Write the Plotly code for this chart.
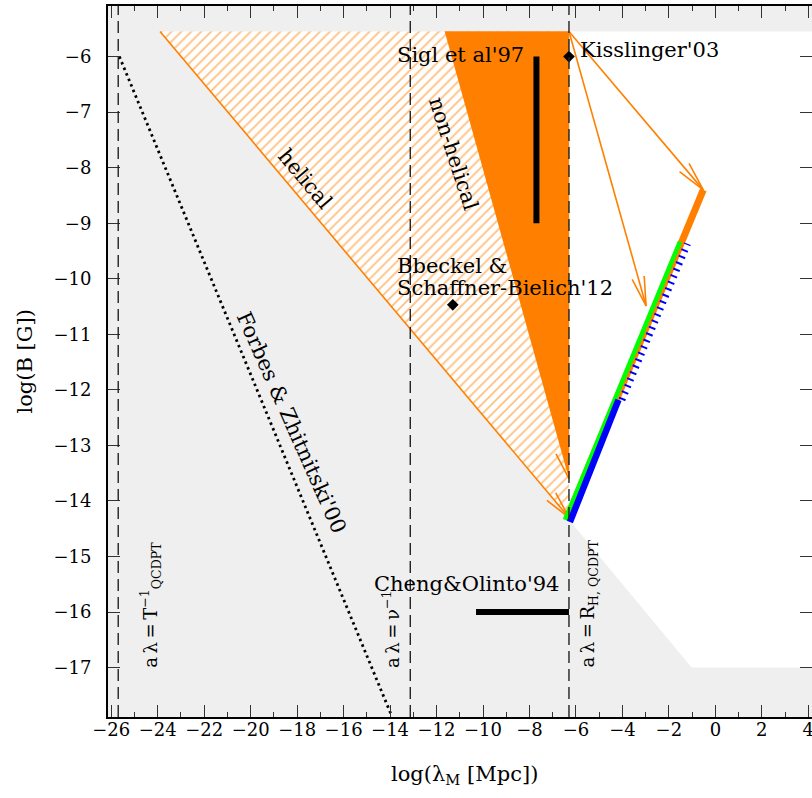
import math
import plotly.graph_objects as go

# ---------------- data ----------------
X_RANGE = [-26.14, 4.16]
Y_RANGE = [-17.89, -5.09]

vline_x = [-25.7, -13.13, -6.3]

forbes_x = [-25.65, -13.95]
forbes_y = [-6.0, -17.85]

helical_x = [-23.9, -6.3, -6.3]
helical_y = [-5.55, -5.55, -14.3]

nonhel_x = [-11.65, -6.3, -6.3]
nonhel_y = [-5.55, -5.55, -13.6]

allowed_x = [-6.3, 5.0, 5.0, -1.02, -6.3]
allowed_y = [-5.55, -5.55, -17.0, -17.0, -14.34]

sigl_x = [-7.7, -7.7]
sigl_y = [-6.0, -9.0]

cheng_x = [-10.3, -6.3]
cheng_y = [-16.0, -16.0]

points_x = [-6.3, -11.3]      # Kisslinger'03, Boeckel
points_y = [-6.0, -10.47]

kiss_start = (-6.3, -5.55)
kiss_arrow_x = [-0.52, -2.98]
kiss_arrow_y = [-8.40, -10.49]

evol_orange_x = [-6.4, -0.52]
evol_orange_y = [-14.34, -8.40]
evol_green_x = [-6.47, -1.52]
evol_green_y = [-14.34, -9.33]
blue_solid_x = [-6.26, -4.17]
blue_solid_y = [-14.38, -12.18]
blue_dash_x = [-4.02, -1.2]
blue_dash_y = [-12.18, -9.37]

ORANGE = "#ff8000"
GRAY = "#efefef"
FONT = "DejaVu Serif"

W, H = 812, 798
ML, MR, MT, MB = 108, 0, 6, 81
PW = W - ML - MR
PH = H - MT - MB
SX = PW / (X_RANGE[1] - X_RANGE[0])
SY = PH / (Y_RANGE[1] - Y_RANGE[0])


def arrowhead(x0, y0, x1, y1, L=28.0, theta_deg=12.0):
    dx = (x1 - x0) * SX
    dy = (y1 - y0) * SY
    n = math.hypot(dx, dy)
    ux, uy = -dx / n, -dy / n
    th = math.radians(theta_deg)
    xs, ys = [], []
    for s in (1, -1):
        c, si = math.cos(s * th), math.sin(s * th)
        bx = ux * c - uy * si
        by = ux * si + uy * c
        xs.append(x1 + L * bx / SX)
        ys.append(y1 + L * by / SY)
    return [xs[0], x1, xs[1]], [ys[0], y1, ys[1]]


fig = go.Figure()

# allowed (white) region
fig.add_trace(go.Scatter(x=allowed_x, y=allowed_y, fill="toself", fillcolor="white",
                         mode="lines", line=dict(width=0), hoverinfo="skip"))
# helical hatched triangle
fig.add_trace(go.Scatter(x=helical_x, y=helical_y, fill="toself",
                         fillpattern=dict(shape="/", fgcolor=ORANGE, bgcolor="white",
                                          size=7, solidity=0.25),
                         mode="lines", line=dict(width=0), hoverinfo="skip"))
# non-helical solid triangle
fig.add_trace(go.Scatter(x=nonhel_x, y=nonhel_y, fill="toself", fillcolor=ORANGE,
                         mode="lines", line=dict(width=0.5, color=ORANGE), hoverinfo="skip"))
# helical hypotenuse
fig.add_trace(go.Scatter(x=[helical_x[0], helical_x[2]], y=[helical_y[0], helical_y[2]],
                         mode="lines", line=dict(color=ORANGE, width=1.6), hoverinfo="skip"))
ax, ay = arrowhead(helical_x[0], helical_y[0], helical_x[2], helical_y[2])
fig.add_trace(go.Scatter(x=ax, y=ay, mode="lines", line=dict(color=ORANGE, width=1.6),
                         hoverinfo="skip"))
ax, ay = arrowhead(nonhel_x[0], nonhel_y[0], nonhel_x[2], nonhel_y[2])
fig.add_trace(go.Scatter(x=ax, y=ay, mode="lines", line=dict(color=ORANGE, width=1.6),
                         hoverinfo="skip"))

# Forbes & Zhitnitski dotted line
fig.add_trace(go.Scatter(x=forbes_x, y=forbes_y, mode="lines",
                         line=dict(color="black", width=2.8, dash="2.5px,3.5px"),
                         hoverinfo="skip"))

# Kisslinger arrows
for tx, ty in zip(kiss_arrow_x, kiss_arrow_y):
    fig.add_trace(go.Scatter(x=[kiss_start[0], tx], y=[kiss_start[1], ty], mode="lines",
                             line=dict(color=ORANGE, width=1.6), hoverinfo="skip"))
    ax, ay = arrowhead(kiss_start[0], kiss_start[1], tx, ty, L=30)
    fig.add_trace(go.Scatter(x=ax, y=ay, mode="lines", line=dict(color=ORANGE, width=1.6),
                             hoverinfo="skip"))

# evolution lines
fig.add_trace(go.Scatter(x=evol_orange_x, y=evol_orange_y, mode="lines",
                         line=dict(color=ORANGE, width=7), hoverinfo="skip"))
fig.add_trace(go.Scatter(x=evol_green_x, y=evol_green_y, mode="lines",
                         line=dict(color="#00ff00", width=4.5), hoverinfo="skip"))
fig.add_trace(go.Scatter(x=blue_solid_x, y=blue_solid_y, mode="lines",
                         line=dict(color="#0000ff", width=6.5), hoverinfo="skip"))
fig.add_trace(go.Scatter(x=blue_dash_x, y=blue_dash_y, mode="lines",
                         line=dict(color="#0000ff", width=7, dash="2px,5px"), hoverinfo="skip"))

# Sigl and Cheng bars
fig.add_trace(go.Scatter(x=sigl_x, y=sigl_y, mode="lines",
                         line=dict(color="black", width=6), hoverinfo="skip"))
fig.add_trace(go.Scatter(x=cheng_x, y=cheng_y, mode="lines",
                         line=dict(color="black", width=6), hoverinfo="skip"))

# points
fig.add_trace(go.Scatter(x=points_x, y=points_y, mode="markers",
                         marker=dict(symbol="diamond", size=9, color="black"),
                         hoverinfo="skip"))

# dashed vertical lines
for xv in vline_x:
    fig.add_vline(x=xv, line=dict(color="#222", width=1.4, dash="12px,6px"), layer="above")

# ---------------- texts ----------------
texts = [
    ("helical", -17.66, -8.2, 50, "center", "middle", 21),
    ("non-helical", -11.29, -7.74, 72, "center", "middle", 21),
    ("Sigl et al'97", -13.8, -5.97, 0, "left", "middle", 21),
    ("Kisslinger'03", -5.92, -5.88, 0, "left", "middle", 21),
    ("Bbeckel &", -13.8, -9.77, 0, "left", "middle", 21),
    ("Schaffner-Bielich'12", -13.8, -10.17, 0, "left", "middle", 21),
    ("Forbes & Zhitnitski'00", -18.26, -12.58, 66, "center", "middle", 21),
    ("Cheng&Olinto'94", -10.69, -15.5, 0, "center", "middle", 21),
    ("a\u2009\u03bb\u2009=\u2009T<sup>\u22121</sup><sub>QCDPT</sub>", -24.33, -17.04, -90, "center", "bottom", 18),
    ("a\u2009\u03bb\u2009=\u2009\u03bd<sup>\u22121</sup>", -13.95, -17.04, -90, "center", "bottom", 18),
    ("a\u2009\u03bb\u2009=\u2009R<sub>H, QCDPT</sub>", -5.45, -17.04, -90, "center", "bottom", 18),
]
for t, x, y, ang, xa, ya, fs in texts:
    fig.add_annotation(x=x, y=y, text=t, textangle=ang, showarrow=False,
                       xanchor=xa, yanchor=ya, font=dict(family=FONT, size=fs, color="black"))

# axis titles
fig.add_annotation(xref="paper", yref="paper", x=0, y=0.5, xshift=-84, text="log(B [G])",
                   textangle=-90, showarrow=False, xanchor="center", yanchor="middle",
                   font=dict(family=FONT, size=21, color="black"))
fig.add_annotation(xref="paper", yref="paper", x=0.5, y=0, yshift=-58, xshift=4,
                   text="log(\u03bb<sub>M</sub> [Mpc])", showarrow=False,
                   xanchor="center", yanchor="middle",
                   font=dict(family=FONT, size=21, color="black"))

fig.update_layout(
    width=W, height=H,
    margin=dict(l=ML, r=MR, t=MT, b=MB, autoexpand=False),
    plot_bgcolor=GRAY, paper_bgcolor="white",
    showlegend=False,
    xaxis=dict(range=X_RANGE, showgrid=False, zeroline=False, showline=True,
               automargin=False, ticklabeloverflow="allow",
               linecolor="black", linewidth=2, mirror="allticks",
               ticks="inside", ticklen=12, tickwidth=1.3, tickcolor="#333",
               tick0=0, dtick=2, ticklabelstandoff=-5,
               minor=dict(dtick=1, ticks="inside", ticklen=5, tickwidth=1.3, tickcolor="#333"),
               tickfont=dict(family=FONT, size=18, color="black")),
    yaxis=dict(range=Y_RANGE, showgrid=False, zeroline=False, showline=True,
               automargin=False, ticklabeloverflow="allow",
               linecolor="black", linewidth=2, mirror="allticks",
               ticks="inside", ticklen=12, tickwidth=1.3, tickcolor="#333",
               tick0=0, dtick=1, ticklabelstandoff=11,
               tickfont=dict(family=FONT, size=18, color="black")),
)

fig.write_html("out.html", config={"displayModeBar": False},
               post_script="document.body.style.margin='0';document.body.style.overflow='hidden';")
